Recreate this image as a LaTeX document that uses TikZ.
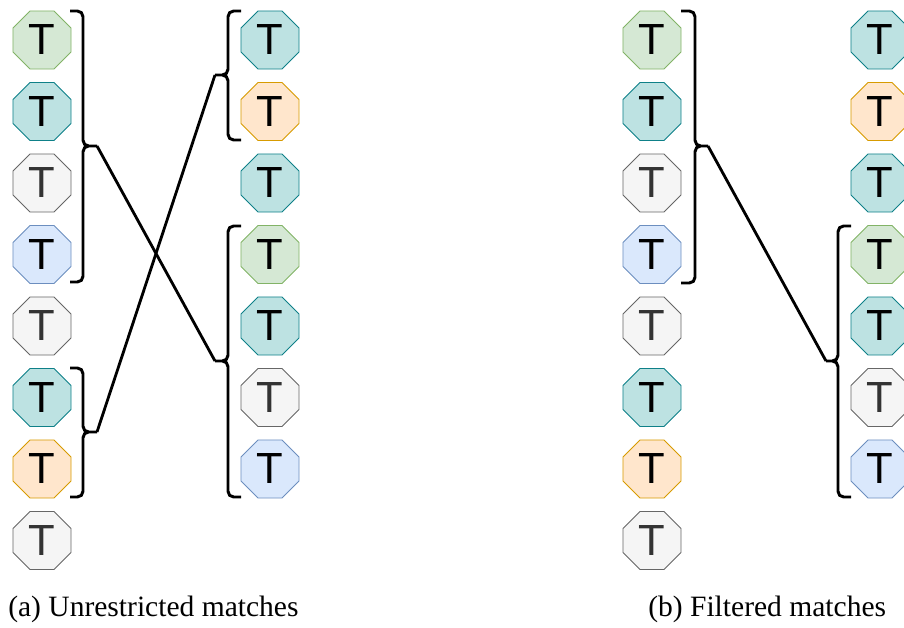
\documentclass[tikz,border=0pt]{standalone}
\usepackage{fontspec}
\setmainfont{Liberation Serif}
\newfontfamily\tfont{Liberation Sans}
\usetikzlibrary{shapes.geometric}
\definecolor{gfill}{HTML}{D5E8D4}
\definecolor{gline}{HTML}{82B366}
\definecolor{tfill}{HTML}{BDE2E2}
\definecolor{tline}{HTML}{0E8088}
\definecolor{sfill}{HTML}{F5F5F5}
\definecolor{sline}{HTML}{666666}
\definecolor{stext}{HTML}{333333}
\definecolor{bfill}{HTML}{DAE8FC}
\definecolor{bline}{HTML}{6C8EBF}
\definecolor{ofill}{HTML}{FFE6CC}
\definecolor{oline}{HTML}{D79B00}
\tikzset{
  tok/.style={regular polygon, regular polygon sides=8, minimum size=1.57cm,
    inner sep=0pt, line width=0.6pt, font=\tfont\fontsize{31}{31}\selectfont},
  tg/.style={tok, fill=gfill, draw=gline},
  tt/.style={tok, fill=tfill, draw=tline},
  ts/.style={tok, fill=sfill, draw=sline, text=stext},
  tb/.style={tok, fill=bfill, draw=bline},
  to/.style={tok, fill=ofill, draw=oline},
  brc/.style={line width=2.1pt, rounded corners=4pt},
  link/.style={line width=2pt}
}

\begin{document}
\begin{tikzpicture}[x=0.025cm, y=-0.025cm]
\useasboundingbox (0,0) rectangle (904,628);

% (a) unrestricted matches
\foreach \s [count=\i] in {tg,tt,ts,tb,ts,tt,to,ts}
    \node[\s] (a\i) at (42, 40+71.5*\i-71.5) {T};
\foreach \s [count=\i] in {tt,to,tt,tg,tt,ts,tb}
    \node[\s] (b\i) at (270, 40+71.5*\i-71.5) {T};

% braces
\draw[brc] (70,11) -- (83,11) -- (83,146) -- (97,146) coordinate (ta)
           (70,282) -- (83,282) -- (83,146) -- (97,146);
\draw[brc] (70,368) -- (83,368) -- (83,432) -- (97,432) coordinate (tb)
           (70,497) -- (83,497) -- (83,432) -- (97,432);
\draw[brc] (241,11) -- (228,11) -- (228,75) -- (215,75) coordinate (tc)
           (241,140) -- (228,140) -- (228,75) -- (215,75);
\draw[brc] (241,226) -- (228,226) -- (228,361) -- (215,361) coordinate (td)
           (241,497) -- (228,497) -- (228,361) -- (215,361);

\draw[link] (ta) -- (td);
\draw[link] (tb) -- (tc);

% (b) filtered matches
\foreach \s [count=\i] in {tg,tt,ts,tb,ts,tt,to,ts}
    \node[\s] (c\i) at (652, 40+71.5*\i-71.5) {T};
\foreach \s [count=\i] in {tt,to,tt,tg,tt,ts,tb}
    \node[\s] (d\i) at (880, 40+71.5*\i-71.5) {T};

\draw[brc] (681,11) -- (695,11) -- (695,146) -- (708,146) coordinate (te)
           (681,283) -- (695,283) -- (695,146) -- (708,146);
\draw[brc] (851,226) -- (838,226) -- (838,361) -- (826,361) coordinate (tf)
           (851,497) -- (838,497) -- (838,361) -- (826,361);

\draw[link] (te) -- (tf);

% captions
\node[anchor=base west, inner sep=0pt, font=\fontsize{21}{21}\selectfont] (capa) at (8,617) {(a) Unrestricted matches};
\node[anchor=base west, inner sep=0pt, font=\fontsize{21}{21}\selectfont] (capb) at (648,617) {(b) Filtered matches};
\end{tikzpicture}
\end{document}
